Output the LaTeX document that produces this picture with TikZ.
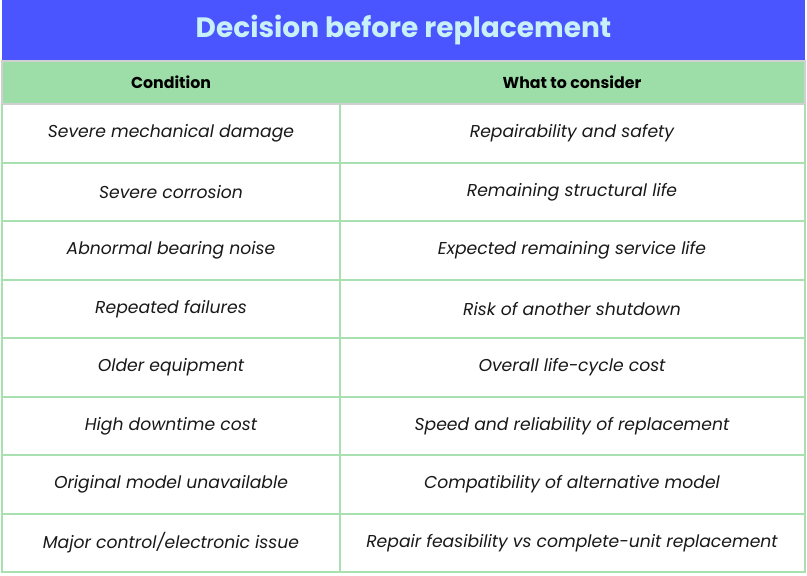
\documentclass[tikz,border=0pt]{standalone}
\usepackage{fontspec}
\setmainfont{Poppins}
\definecolor{titlebg}{HTML}{4A55FF}
\definecolor{titlefg}{HTML}{C8F0F8}
\definecolor{headbg}{HTML}{9CDDA8}
\definecolor{gridg}{HTML}{A8E0B0}
\definecolor{headline}{HTML}{D0D0D0}
\begin{document}
\begin{tikzpicture}[x=1pt,y=-1pt,
  cell/.style={font=\fontsize{17.2}{20}\selectfont\itshape, text=black!90},
  head/.style={font=\fontsize{15.8}{18}\selectfont\bfseries}]
\useasboundingbox (0,0) rectangle (807,576);
\fill[white] (0,0) rectangle (807,576);
\fill[titlebg] (2,0) rectangle (805,61);
\node[font=\fontsize{28}{32}\selectfont\bfseries, text=titlefg] (title) at (403.5,30) {Decision before replacement};
\fill[headbg] (2,61) rectangle (805,104);
\draw[headline, line width=1.5pt] (2,61) rectangle (805,104);
\node[head] (h1) at (171,82.5) {Condition};
\node[head] (h2) at (572,82.5) {What to consider};
% grid
\draw[gridg, line width=1.5pt] (2,104) -- (2,572) -- (805,572) -- (805,104);
\draw[gridg, line width=1.5pt] (340,104) -- (340,572);
\foreach \y in {163,221,280,338,397,455,514} \draw[gridg, line width=1.5pt] (2,\y) -- (805,\y);
\foreach \i/\a/\b in {
 0/Severe mechanical damage/Repairability and safety,
 1/Severe corrosion/Remaining structural life,
 2/Abnormal bearing noise/Expected remaining service life,
 3/Repeated failures/Risk of another shutdown,
 4/Older equipment/Overall life-cycle cost,
 5/High downtime cost/Speed and reliability of replacement,
 6/Original model unavailable/Compatibility of alternative model,
 7/Major control\slash electronic issue/Repair feasibility vs complete-unit replacement}{
 \node[cell] (a\i) at (171,{133.5+58.5*\i}) {\a};
 \node[cell] (b\i) at (572,{133.5+58.5*\i}) {\b};
}
\end{tikzpicture}
\end{document}
